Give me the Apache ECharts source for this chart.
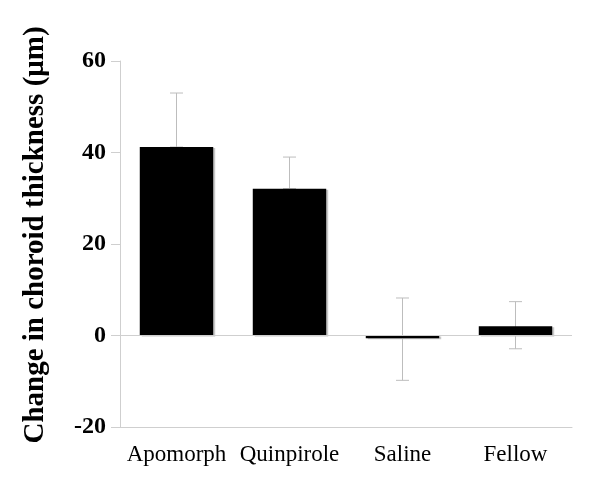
<!DOCTYPE html>
<html>
<head>
<meta charset="utf-8">
<script src="https://cdn.jsdelivr.net/npm/echarts@6/dist/echarts.min.js"></script>
<style>
html,body{margin:0;padding:0;background:#fff;}
#chart{width:600px;height:483px;}
</style>
</head>
<body>
<div id="chart"></div>
<script>
var categories = ['Apomorph', 'Quinpirole', 'Saline', 'Fellow'];
var means = [41.2, 32.1, -0.6, 2.0];
var errHigh = [53.0, 39.0, 8.2, 7.4];
var errLow = [41.2, 32.1, -9.8, -2.9];
var yTicks = [-20, 0, 20, 40, 60];

var chart = echarts.init(document.getElementById('chart'));

var errData = [];
for (var i = 0; i < categories.length; i++) {
	errData.push([i, errLow[i], errHigh[i]]);
}

var option = {
	animation: false,
	backgroundColor: '#fff',
	grid: { left: 120, right: 28, top: 61, bottom: 56 },
	xAxis: [
		{
			type: 'category',
			data: categories,
			axisLine: { onZero: false, lineStyle: { color: '#cfcfcf', width: 1 } },
			axisTick: { show: false },
			axisLabel: {
				interval: 0,
				color: '#000',
				fontFamily: 'Liberation Serif',
				fontSize: 23,
				margin: 16
			}
		}
	],
	yAxis: {
		type: 'value',
		min: yTicks[0],
		max: yTicks[yTicks.length - 1],
		interval: 20,
		name: 'Change in choroid thickness (\u03bcm)',
		nameLocation: 'middle',
		nameGap: 70,
		nameTextStyle: {
			color: '#000',
			fontFamily: 'Liberation Serif',
			fontWeight: 'bold',
			fontSize: 29,
			padding: [0, 0, 0, 18]
		},
		axisLine: { show: true, lineStyle: { color: '#cfcfcf', width: 1 } },
		axisTick: { show: true, length: 9, lineStyle: { color: '#cfcfcf' } },
		splitLine: { show: false },
		axisLabel: {
			color: '#000',
			fontFamily: 'Liberation Serif',
			fontWeight: 'bold',
			fontSize: 24,
			margin: 14
		}
	},
	series: [
		{
			type: 'custom',
			data: errData,
			z: 1,
			renderItem: function (params, api) {
				var x = api.value(0);
				var lo = api.coord([x, api.value(1)]);
				var hi = api.coord([x, api.value(2)]);
				var cap = 6.5;
				var style = { stroke: '#bdbdbd', lineWidth: 1 };
				return {
					type: 'group',
					children: [
						{ type: 'line', shape: { x1: hi[0], y1: hi[1], x2: lo[0], y2: lo[1] }, style: style },
						{ type: 'line', shape: { x1: hi[0] - cap, y1: hi[1], x2: hi[0] + cap, y2: hi[1] }, style: style },
						{ type: 'line', shape: { x1: lo[0] - cap, y1: lo[1], x2: lo[0] + cap, y2: lo[1] }, style: style }
					]
				};
			}
		},
		{
			type: 'bar',
			data: means,
			barWidth: '65%',
			z: 2,
			itemStyle: {
				color: '#000',
				shadowColor: '#c8c8c8',
				shadowOffsetX: 2,
				shadowOffsetY: 1
			},
			markLine: {
				silent: true,
				symbol: 'none',
				label: { show: false },
				lineStyle: { color: '#cfcfcf', type: 'solid', width: 1 },
				data: [{ yAxis: 0 }]
			}
		}
	]
};
chart.setOption(option);
</script>
</body>
</html>
